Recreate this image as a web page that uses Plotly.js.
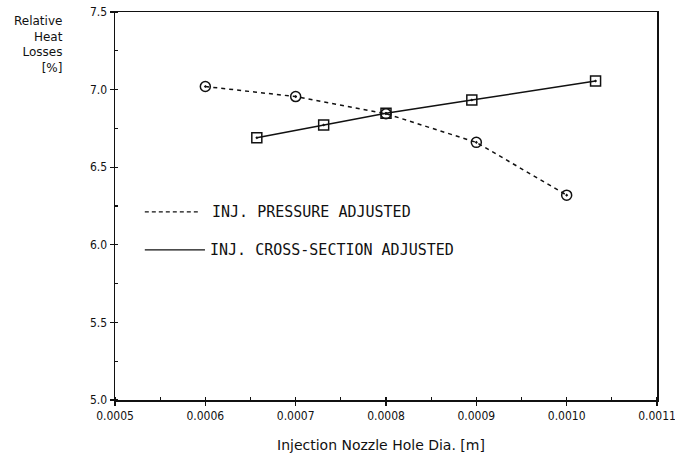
<!DOCTYPE html>
<html>
<head>
<meta charset="utf-8">
<script src="https://cdn.plot.ly/plotly-3.0.1.min.js"></script>
<style>html,body{margin:0;padding:0;background:#fff;}#chart{width:675px;height:454px;}</style>
</head>
<body>
<div id="chart"></div>
<script>
// Data
var pressureX = [0.0006, 0.0007, 0.0008, 0.0009, 0.0010];
var pressureY = [7.02, 6.955, 6.845, 6.66, 6.32];
var crossX = [0.000657, 0.000731, 0.0008, 0.000895, 0.001032];
var crossY = [6.69, 6.772, 6.847, 6.933, 7.055];
var xTickVals = [0.0005, 0.0006, 0.0007, 0.0008, 0.0009, 0.0010, 0.0011];
var xTickText = ['0.0005', '0.0006', '0.0007', '0.0008', '0.0009', '0.0010', '0.0011'];
var yTickVals = [5.0, 5.5, 6.0, 6.5, 7.0, 7.5];
var yTickText = ['5.0', '5.5', '6.0', '6.5', '7.0', '7.5'];
var seriesNames = ['INJ. PRESSURE ADJUSTED', 'INJ. CROSS-SECTION ADJUSTED'];

var FONT = 'DejaVu Sans Condensed, DejaVu Sans, sans-serif';
var FONT_W = 'DejaVu Sans, sans-serif';
var FONT_M = 'DejaVu Sans Mono, monospace';

var traces = [
  {
    x: pressureX, y: pressureY, mode: 'lines+markers', name: seriesNames[0],
    line: {color: '#111', width: 1.5, dash: '4px,4px'},
    marker: {symbol: 'circle-open-dot', size: 10, color: '#111', line: {width: 1.5, color: '#111'}},
    showlegend: false
  },
  {
    x: crossX, y: crossY, mode: 'lines+markers', name: seriesNames[1],
    line: {color: '#111', width: 1.5},
    marker: {symbol: 'square-open-dot', size: 10, color: '#111', line: {width: 1.5, color: '#111'}},
    showlegend: false
  }
];

var axisCommon = {
  showgrid: false, zeroline: false, showline: true, mirror: true,
  linecolor: '#111', linewidth: 1.5,
  ticks: 'outside', ticklen: 4, tickwidth: 1.2, tickcolor: '#111',
  ticklabeloverflow: 'allow',
  tickfont: {family: FONT, size: 12, color: '#111'}
};

var layout = {
  width: 675, height: 454,
  margin: {l: 115, r: 18, t: 12, b: 54},
  paper_bgcolor: '#fff', plot_bgcolor: '#fff',
  font: {family: FONT, color: '#111'},
  xaxis: Object.assign({}, axisCommon, {
    range: [0.0005, 0.0011], tickmode: 'array', tickvals: xTickVals, ticktext: xTickText,
    minor: {dtick: 0.00005, ticks: 'inside', ticklen: 3, tickcolor: '#111'},
    title: {text: ''}
  }),
  yaxis: Object.assign({}, axisCommon, {
    range: [5.0, 7.5], tickmode: 'array', tickvals: yTickVals, ticktext: yTickText,
    minor: {dtick: 0.25, ticks: 'inside', ticklen: 3, tickcolor: '#111'},
    title: {text: ''}
  }),
  shapes: [
    {type: 'line', xref: 'paper', yref: 'paper', x0: 0.055, x1: 0.153, y0: 0.485, y1: 0.485,
     line: {color: '#111', width: 1.3, dash: '4px,3px'}},
    {type: 'line', xref: 'paper', yref: 'paper', x0: 0.055, x1: 0.166, y0: 0.387, y1: 0.387,
     line: {color: '#111', width: 1.3}}
  ],
  annotations: [
    {xref: 'paper', yref: 'paper', x: 0.176, y: 0.485, xanchor: 'left', yanchor: 'middle',
     text: seriesNames[0], showarrow: false, font: {family: FONT_M, size: 15, color: '#111'}},
    {xref: 'paper', yref: 'paper', x: 0.172, y: 0.387, xanchor: 'left', yanchor: 'middle',
     text: seriesNames[1], showarrow: false, font: {family: FONT_M, size: 15, color: '#111'}},
    {xref: 'paper', yref: 'paper', x: 0.49, y: -0.09, xanchor: 'center', yanchor: 'top',
     text: 'Injection Nozzle Hole Dia. [m]', showarrow: false, font: {family: FONT_W, size: 14, color: '#111'}},
    {xref: 'paper', yref: 'paper', x: -0.093, y: 1.0, xanchor: 'right', yanchor: 'top', align: 'right',
     text: 'Relative<br>Heat<br>Losses<br>[%]', showarrow: false, font: {family: FONT_W, size: 12, color: '#111'}}
  ]
};

Plotly.newPlot('chart', traces, layout, {displayModeBar: false, staticPlot: true});
</script>
</body>
</html>
